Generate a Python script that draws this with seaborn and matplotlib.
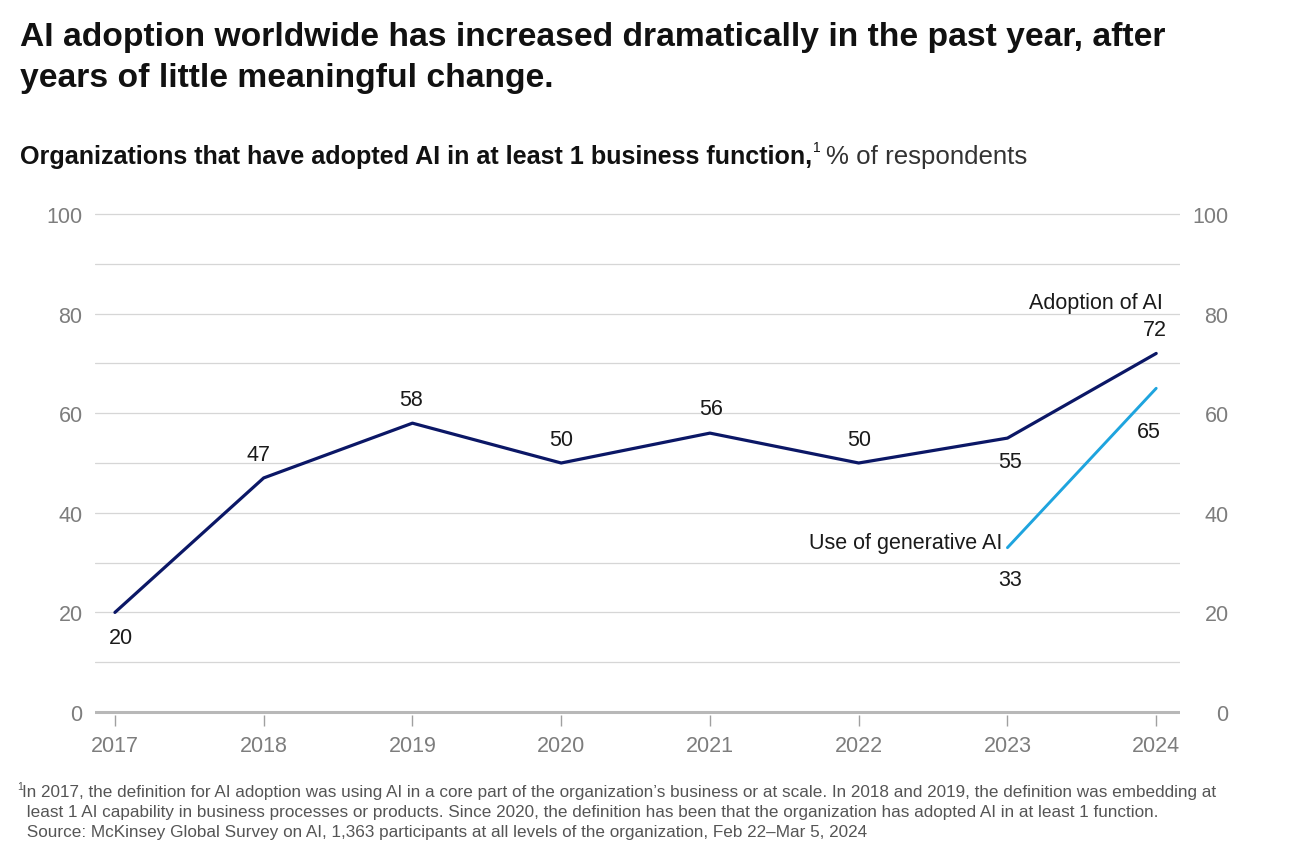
import matplotlib
matplotlib.use("Agg")
import matplotlib.pyplot as plt
import matplotlib.transforms as mtrans
import seaborn as sns
import pandas as pd

years = [2017, 2018, 2019, 2020, 2021, 2022, 2023, 2024]
adoption = [20, 47, 58, 50, 56, 50, 55, 72]
genai_years = [2023, 2024]
genai = [33, 65]
y_major = [0, 20, 40, 60, 80, 100]
y_minor = [10, 30, 50, 70, 90]

title_lines = ["AI adoption worldwide has increased dramatically in the past year, after",
               "years of little meaningful change."]
subtitle_bold = "Organizations that have adopted AI in at least 1 business function,"
subtitle_sup = "1"
subtitle_norm = "% of respondents"
footnotes = [
    "In 2017, the definition for AI adoption was using AI in a core part of the organization\u2019s business or at scale. In 2018 and 2019, the definition was embedding at",
    " least 1 AI capability in business processes or products. Since 2020, the definition has been that the organization has adopted AI in at least 1 function.",
    " Source: McKinsey Global Survey on AI, 1,363 participants at all levels of the organization, Feb 22\u2013Mar 5, 2024",
]

# label offsets (points) - style
adopt_off = [(4, -18), (-4, 17), (-1, 17), (0, 17), (1, 18), (0, 17), (2, -17), (-1, 17)]
genai_off = [(2, -23), (-5, -31)]

sns.set_theme(style="white")
FONT = ["Liberation Sans", "DejaVu Sans"]
plt.rcParams["font.family"] = FONT

NAVY = "#0b1766"
CYAN = "#1ea4de"
GREY = "#7d7d7d"
GRID = "#d6d6d6"
TXT = "#1a1a1a"
FS = 15.5

W, H = 1292, 845
fig = plt.figure(figsize=(W / 100, H / 100), dpi=100)
fig.patch.set_facecolor("white")

ax_l, ax_r = 95, 1180
ax_t, ax_b = 212.5, 715.5
ax = fig.add_axes([ax_l / W, 1 - ax_b / H, (ax_r - ax_l) / W, (ax_b - ax_t) / H])

df_a = pd.DataFrame({"year": years, "value": adoption})
df_g = pd.DataFrame({"year": genai_years, "value": genai})
sns.lineplot(data=df_a, x="year", y="value", ax=ax, color=NAVY, linewidth=2.3, zorder=5)
sns.lineplot(data=df_g, x="year", y="value", ax=ax, color=CYAN, linewidth=2.1, zorder=5)

ax.set_xlim(2017 - 0.134, 2024 + 0.16)
ax.set_ylim(-0.5, 100.5)
ax.set_xlabel("")
ax.set_ylabel("")
for s in ax.spines.values():
    s.set_visible(False)

ax.set_yticks(y_major)
ax.set_yticks(y_minor, minor=True)
for v in y_major + y_minor:
    if v == 0:
        ax.axhline(v, color="#b8b8b8", linewidth=2.2, zorder=2)
    else:
        ax.axhline(v, color=GRID, linewidth=0.9, zorder=1)

ax.tick_params(axis="y", which="both", length=0, labelsize=FS, labelcolor=GREY,
               left=False, right=False, labelleft=True, labelright=True, pad=9)
for t in ax.yaxis.get_major_ticks():
    t.label2.set_horizontalalignment("right")
    t.label2.set_transform(t.label2.get_transform() + mtrans.ScaledTranslation(26 / 72, 0, fig.dpi_scale_trans))

ax.set_xticks(years)
ax.set_xticklabels([str(y) for y in years])
ax.tick_params(axis="x", length=8, width=1, color="#a0a0a0", labelsize=FS,
               labelcolor=GREY, pad=7, bottom=True, direction="out")

for x, y, off in zip(years, adoption, adopt_off):
    ax.annotate(str(y), (x, y), xytext=off, textcoords="offset points",
                ha="center", va="center", fontsize=FS, color=TXT, zorder=6)
for x, y, off in zip(genai_years, genai, genai_off):
    ax.annotate(str(y), (x, y), xytext=off, textcoords="offset points",
                ha="center", va="center", fontsize=FS, color=TXT, zorder=6)

ax.annotate("Adoption of AI", (2024, 72), xytext=(5, 37), textcoords="offset points",
            ha="right", va="center", fontsize=FS, color=TXT)
ax.annotate("Use of generative AI", (2023, 33), xytext=(-4, 4), textcoords="offset points",
            ha="right", va="center", fontsize=FS, color=TXT)

def fx(px):
    return px / W

def fy(py):
    return 1 - py / H

fig.text(fx(20), fy(46), title_lines[0], fontsize=24.2, fontweight="bold", color="#111111", va="baseline")
fig.text(fx(20), fy(87), title_lines[1], fontsize=24.2, fontweight="bold", color="#111111", va="baseline")

renderer = fig.canvas.get_renderer()
tb = fig.text(fx(20), fy(164), subtitle_bold, fontsize=18.1, fontweight="bold", color="#111111", va="baseline")
bb = tb.get_window_extent(renderer)
ts = fig.text((bb.x1 + 1) / W, fy(152), subtitle_sup, fontsize=10, color="#111111", va="baseline")
bs = ts.get_window_extent(renderer)
fig.text((bs.x1 + 5) / W, fy(164), subtitle_norm, fontsize=18.6, color="#333333", va="baseline")

fig.text(fx(17), fy(790), "1", fontsize=7.5, color="#555555", va="baseline")
for i, line in enumerate(footnotes):
    fig.text(fx(22), fy(797 + i * 20), line, fontsize=12.3, color="#555555", va="baseline")

fig.savefig("out.png", dpi=100, facecolor="white")
